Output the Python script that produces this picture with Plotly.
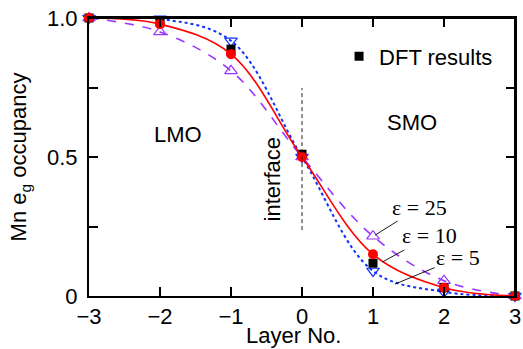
import plotly.graph_objects as go

layers = [-3, -2, -1, 0, 1, 2, 3]
dft = [1.0, 0.985, 0.888, 0.51, 0.118, 0.030, 0.0]
eps10 = [1.0, 0.978, 0.870, 0.50, 0.150, 0.030, 0.0]
eps5 = [1.0, 0.997, 0.918, 0.50, 0.090, 0.015, 0.0]
eps25 = [1.0, 0.950, 0.810, 0.50, 0.215, 0.055, 0.0]

ytickvals = [0, 0.25, 0.5, 0.75, 1.0]
yticktext = ["0", "", "0.5", "", "1.0"]

SANS = "Liberation Sans, Arial, sans-serif"
SERIF = "Liberation Serif, Times New Roman, serif"
FS = 22

RED = "#ff0000"
BLUE = "#1030ff"
PURPLE = "#9933ff"

fig = go.Figure()

fig.add_trace(go.Scatter(
    x=layers, y=eps5, mode="lines+markers", line=dict(color=BLUE, width=2, dash="dot", shape="spline"),
    marker=dict(symbol="triangle-down-open", size=11, color=BLUE, line=dict(width=1.2)),
    showlegend=False, cliponaxis=False))
fig.add_trace(go.Scatter(
    x=layers, y=eps25, mode="lines+markers", line=dict(color=PURPLE, width=1.6, dash="dash", shape="spline"),
    marker=dict(symbol="triangle-up-open", size=11, color=PURPLE, line=dict(width=1.2)),
    showlegend=False, cliponaxis=False))
fig.add_trace(go.Scatter(
    x=layers, y=dft, mode="markers", name="DFT results",
    marker=dict(symbol="square", size=9, color="black"),
    showlegend=True, cliponaxis=False))
fig.add_trace(go.Scatter(
    x=layers, y=eps10, mode="lines+markers", line=dict(color=RED, width=1.6, shape="spline"),
    marker=dict(symbol="circle", size=10, color=RED),
    showlegend=False, cliponaxis=False))

# interface marker line
interface_x = 0
interface_y = [0.237, 0.748]
fig.add_shape(type="line", x0=interface_x, x1=interface_x, y0=interface_y[0], y1=interface_y[1],
              xref="x", yref="y", line=dict(color="#222222", width=1, dash="4px,3px"))
# frame: top and right edges of the plot area
fig.add_shape(type="line", xref="x domain", yref="y domain", x0=0, x1=1, y0=1, y1=1,
              line=dict(color="black", width=2), layer="above")
fig.add_shape(type="line", xref="x domain", yref="y domain", x0=1, x1=1, y0=0, y1=1,
              line=dict(color="black", width=2), layer="above")

annots = [
    dict(text="LMO", x=-1.75, y=0.58, font=dict(family=SANS, size=FS)),
    dict(text="SMO", x=1.55, y=0.625, font=dict(family=SANS, size=FS)),
    dict(text="interface", x=-0.42, y=0.42, textangle=-90, font=dict(family=SANS, size=FS)),
]
for a in annots:
    fig.add_annotation(xref="x", yref="y", showarrow=False, font_color="black", **a)

# x-axis title (placed manually so it can sit low, as in the original)
fig.add_annotation(text="Layer No.", xref="paper", yref="paper", x=0.48, y=-0.142,
                   xanchor="center", yanchor="middle", showarrow=False,
                   font=dict(family=SANS, size=FS, color="black"))

# epsilon labels with leader lines
eps_labels = ["ε = 25", "ε = 10", "ε = 5"]
label_pos = [(1.66, 0.32), (1.80, 0.216), (2.20, 0.137)]
point_pos = [(1.03, 0.219), (1.13, 0.122), (1.31, 0.043)]
for t, (tx, ty), (px, py) in zip(eps_labels, label_pos, point_pos):
    fig.add_annotation(text=t, x=px, y=py, ax=tx, ay=ty, xref="x", yref="y", axref="x", ayref="y",
                       showarrow=True, arrowhead=0, arrowwidth=0.9, arrowcolor="black",
                       font=dict(family=SERIF, size=22, color="black"))

fig.update_layout(
    width=523, height=349,
    margin=dict(l=89, r=8, t=18, b=53),
    paper_bgcolor="white", plot_bgcolor="white",
    font=dict(family=SANS, size=FS, color="black"),
    legend=dict(x=0.587, y=0.862, xanchor="left", yanchor="middle", bgcolor="rgba(0,0,0,0)",
                font=dict(family=SANS, size=FS)),
)
fig.update_xaxes(range=[-3, 3], tickvals=layers, ticks="inside", ticklen=9, tickwidth=1.5,
                 tickcolor="black",
                 showline=True, linecolor="black", linewidth=2, mirror="allticks", showgrid=False,
                 zeroline=False, automargin=False,
                 tickfont=dict(family=SANS, size=FS))
fig.update_yaxes(range=[0, 1], tickvals=ytickvals, ticktext=yticktext, ticks="inside", ticklen=9,
                 tickwidth=1.5, tickcolor="black",
                 showline=True, linecolor="black", linewidth=2, mirror="allticks",
                 showgrid=False, zeroline=False, ticklabelstandoff=5, automargin=False,
                 title=dict(text="Mn e<sub>g</sub> occupancy", standoff=14,
                            font=dict(family=SANS, size=FS)),
                 tickfont=dict(family=SANS, size=FS))

fig.write_html("out.html", config={"displayModeBar": False},
               post_script="document.body.style.margin='0';document.body.style.overflow='hidden';")
